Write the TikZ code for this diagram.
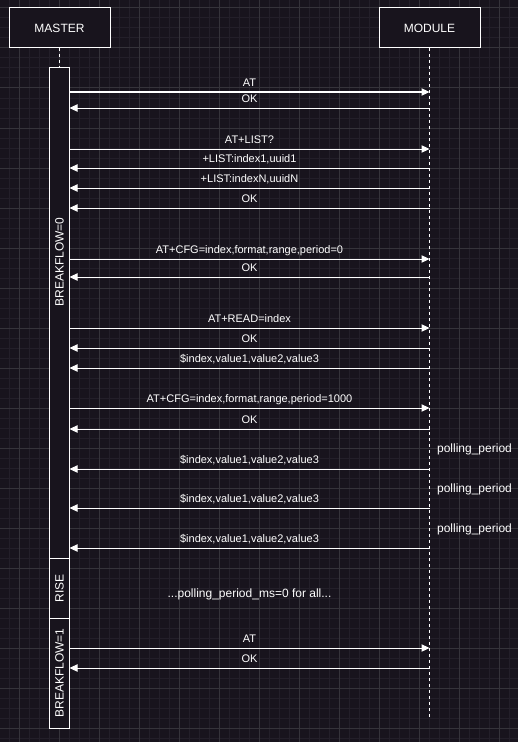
\documentclass[tikz,border=0pt]{standalone}
\usepackage{fontspec}
\setmainfont{Liberation Sans}
\usepackage{tikz}
\usetikzlibrary{arrows.meta}
\usetikzlibrary{positioning}

\definecolor{bgcol}{HTML}{18141D}
\definecolor{gridmajor}{HTML}{35333A}
\definecolor{gridminor}{HTML}{231F29}

\tikzset{
  actor/.style={draw=white, fill=bgcol, line width=0.75pt, minimum width=75.75pt, minimum height=30pt,
    text=white, font=\fontsize{9}{11}\selectfont, inner sep=0pt, outer sep=0pt},
  bar/.style={draw=white, fill=bgcol, line width=0.75pt, minimum width=15pt, inner sep=0pt, outer sep=0pt},
  barlbl/.style={rotate=90, text=white, font=\fontsize{9}{11}\selectfont, inner sep=0pt},
  life/.style={draw=white, line width=0.75pt, dash pattern=on 2.25pt off 2.25pt},
  msg/.style={draw=white, line width=0.75pt, -{Triangle[length=6pt,width=5.5pt]}},
  lbl/.style={anchor=base, yshift=4pt, text=white, font=\fontsize{8.25}{10}\selectfont, inner sep=0pt},
  note/.style={anchor=base, text=white, font=\fontsize{9}{11}\selectfont, inner sep=0pt}
}

\begin{document}
\begin{tikzpicture}[x=0.75pt, y=-0.75pt]
    \useasboundingbox (0,0) rectangle (518,742);
    \fill[bgcol] (0,0) rectangle (518,742);
    \begin{scope}[shift={(19.5,8)}]
      \draw[gridminor, line width=0.75pt, step=7.5pt] (-19.5,734) grid (498.5,-8);
      \draw[gridmajor, line width=0.75pt, step=30pt] (-19.5,734) grid (498.5,-8);
    \end{scope}

    % participants
    \node[actor] (master) at (59.5,28) {MASTER};
    \node[actor] (module) at (429.5,28) {MODULE};
    \coordinate (modend) at (429.5,717);

    % activation of the master
    \node[bar, minimum height=367.5pt] (bf0) at (59.5,313) {};
    \node[bar, minimum height=45pt, below=0pt of bf0] (rise) {};
    \node[bar, minimum height=82.5pt, below=0pt of rise] (bf1) {};
    \node[barlbl] (bf0lbl) at (59.5,262) {BREAKFLOW=0};
    \node[barlbl] (riselbl) at (rise) {RISE};
    \node[barlbl] (bf1lbl) at (bf1) {BREAKFLOW=1};

    \draw[life] (master) -- (bf0);
    \draw[life] (module) -- (modend);

    % rows of the messages
    \coordinate (r1) at (0,92);
    \coordinate (r2) at (0,108);
    \coordinate (r3) at (0,149);
    \coordinate (r4) at (0,168);
    \coordinate (r5) at (0,188);
    \coordinate (r6) at (0,208);
    \coordinate (r7) at (0,259);
    \coordinate (r8) at (0,277);
    \coordinate (r9) at (0,328);
    \coordinate (r10) at (0,348);
    \coordinate (r11) at (0,368);
    \coordinate (r12) at (0,408);
    \coordinate (r13) at (0,429);
    \coordinate (r14) at (0,469);
    \coordinate (r15) at (0,508);
    \coordinate (r16) at (0,548);
    \coordinate (r17) at (0,648);
    \coordinate (r18) at (0,668);

    \draw[msg] (bf0.east |- r1) -- node[lbl] {AT} (module |- r1);
    \draw[msg] (module |- r2) -- node[lbl] {OK} (bf0.east |- r2);
    \draw[msg] (bf0.east |- r3) -- node[lbl] {AT+LIST?} (module |- r3);
    \draw[msg] (module |- r4) -- node[lbl] {+LIST:index1,uuid1} (bf0.east |- r4);
    \draw[msg] (module |- r5) -- node[lbl] {+LIST:indexN,uuidN} (bf0.east |- r5);
    \draw[msg] (module |- r6) -- node[lbl] {OK} (bf0.east |- r6);
    \draw[msg] (bf0.east |- r7) -- node[lbl] {AT+CFG=index,format,range,period=0} (module |- r7);
    \draw[msg] (module |- r8) -- node[lbl] {OK} (bf0.east |- r8);
    \draw[msg] (bf0.east |- r9) -- node[lbl] {AT+READ=index} (module |- r9);
    \draw[msg] (module |- r10) -- node[lbl] {OK} (bf0.east |- r10);
    \draw[msg] (module |- r11) -- node[lbl] {\$index,value1,value2,value3} (bf0.east |- r11);
    \draw[msg] (bf0.east |- r12) -- node[lbl] {AT+CFG=index,format,range,period=1000} (module |- r12);
    \draw[msg] (module |- r13) -- node[lbl] {OK} (bf0.east |- r13);
    \draw[msg] (module |- r14) -- node[lbl] {\$index,value1,value2,value3} (bf0.east |- r14);
    \draw[msg] (module |- r15) -- node[lbl] {\$index,value1,value2,value3} (bf0.east |- r15);
    \draw[msg] (module |- r16) -- node[lbl] {\$index,value1,value2,value3} (bf0.east |- r16);
    \draw[msg] (bf1.east |- r17) -- node[lbl] {AT} (module |- r17);
    \draw[msg] (module |- r18) -- node[lbl] {OK} (bf1.east |- r18);

    % notes
    \node[note] (pp1) at (474.5,452) {polling\_period};
    \node[note] (pp2) at (474.5,492) {polling\_period};
    \node[note] (pp3) at (474.5,532) {polling\_period};
    \node[note] (risenote) at (249.5,597) {...polling\_period\_ms=0 for all...};
  \end{tikzpicture}
\end{document}
